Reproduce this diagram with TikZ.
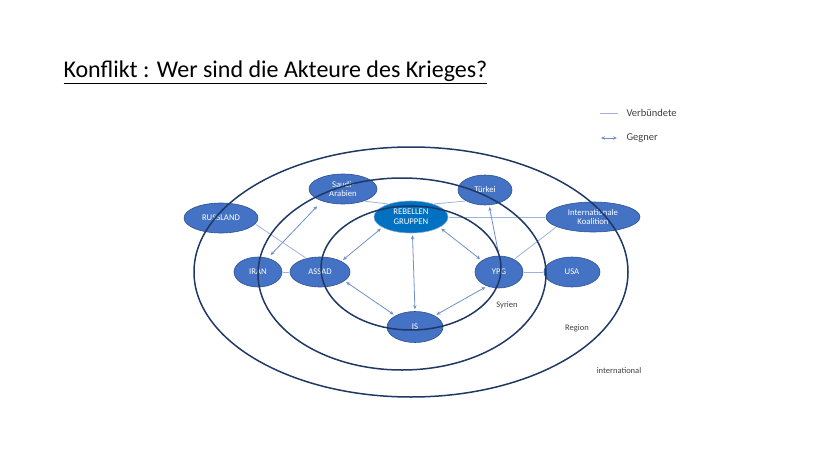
\documentclass[tikz,border=0pt]{standalone}
\usepackage{fontspec}
\setmainfont{Carlito}
\usetikzlibrary{arrows.meta,shapes.geometric}
\definecolor{akteurblau}{HTML}{4472C4}
\definecolor{akteurrand}{HTML}{2F528F}
\definecolor{rebellblau}{HTML}{0070C0}
\definecolor{rebellrand}{HTML}{7FA8DD}
\definecolor{ringblau}{HTML}{1F3864}
\definecolor{freundlinie}{HTML}{9DB3D9}
\definecolor{feindlinie}{HTML}{6F8FCB}
\tikzset{
  akteur/.style={ellipse,draw=akteurrand,fill=akteurblau,line width=0.6pt,
    text=white,font=\fontsize{8.7}{9.8}\selectfont,align=center,inner sep=0pt,
    minimum height=30pt},
  ring/.style={draw=ringblau,line width=1.5pt},
  verbuendet/.style={draw=freundlinie,line width=0.8pt,shorten <=1pt,shorten >=1pt},
  gegner/.style={draw=feindlinie,line width=0.8pt,
    {Stealth[length=4pt,width=3.5pt]}-{Stealth[length=4pt,width=3.5pt]},
    shorten <=2pt,shorten >=2pt},
  ebene/.style={text=black!75,font=\fontsize{8.5}{10}\selectfont},
  legende/.style={text=black!75,font=\fontsize{10.5}{12}\selectfont,anchor=west}
}
\begin{document}
\begin{tikzpicture}[x=1pt,y=-1pt]
   \useasboundingbox (0,0) rectangle (828,466);
   \node[anchor=west,font=\fontsize{24}{28}\selectfont] (titel) at (60,72)
     {\underline{Konflikt : Wer sind die Akteure des Krieges?}};
   % Akteure
   \node[akteur,minimum width=68pt] (saudi) at (343,189) {Saudi-\\Arabien};
   \node[akteur,minimum width=74pt] (russland) at (221,218) {RUSSLAND};
   \node[akteur,minimum width=74pt,minimum height=32pt,fill=rebellblau,draw=rebellrand]
     (rebellen) at (411,217) {REBELLEN\\GRUPPEN};
   \node[akteur,minimum width=54pt] (tuerkei) at (485,190) {Türkei};
   \node[akteur,minimum width=94pt] (koalition) at (593,217) {Internationale\\Koalition};
   \node[akteur,minimum width=48pt] (iran) at (258,272) {IRAN};
   \node[akteur,minimum width=60pt] (assad) at (320,272) {ASSAD};
   \node[akteur,minimum width=48pt,minimum height=32pt] (ypg) at (499,272) {YPG};
   \node[akteur,minimum width=56pt] (usa) at (572,272) {USA};
   \node[akteur,minimum width=56pt,minimum height=31pt] (is) at (415,327) {IS};
   % Verbuendete
   \draw[verbuendet] (russland.-10) -- (assad.135);
   \draw[verbuendet] (iran) -- (assad);
   \draw[verbuendet] (saudi.-30) -- (rebellen.150);
   \draw[verbuendet] (tuerkei.-150) -- (rebellen.30);
   \draw[verbuendet] (koalition.west) -- (rebellen.east);
   \draw[verbuendet] (koalition.-165) -- (ypg.40);
   \draw[verbuendet] (ypg) -- (usa);
   % Gegner
   \draw[gegner,shorten <=7pt,shorten >=4pt] (saudi.210) -- (iran.55);
   \draw[gegner] (rebellen.200) -- (assad.north east);
   \draw[gegner] (rebellen.-85) -- (is.north);
   \draw[gegner] (rebellen.-20) -- (ypg.north west);
   \draw[gegner] (tuerkei.-75) -- (ypg.north);
   \draw[gegner] (assad.-20) -- (is.150);
   \draw[gegner] (is.30) -- (ypg.-130);
   % Ebenen
   \draw[ring] (411,272) ellipse [x radius=217,y radius=125];
   \draw[ring] (402,274) ellipse [x radius=144,y radius=96];
   \draw[ring] (411,268) ellipse [x radius=90,y radius=62];
   \node[ebene] (syrien) at (507,305) {Syrien};
   \node[ebene] (region) at (577,328) {Region};
   \node[ebene] (international) at (619,371) {international};
   % Legende
   \node[legende] (lverb) at (623,113) {Verbündete};
   \node[legende] (lgeg) at (623,138) {Gegner};
   \coordinate (v1) at (599,113);
   \coordinate (v2) at (619,113);
   \coordinate (g1) at (599,138);
   \coordinate (g2) at (619,138);
   \draw[verbuendet] (v1) -- (v2);
   \draw[gegner] (g1) -- (g2);
\end{tikzpicture}
\end{document}
